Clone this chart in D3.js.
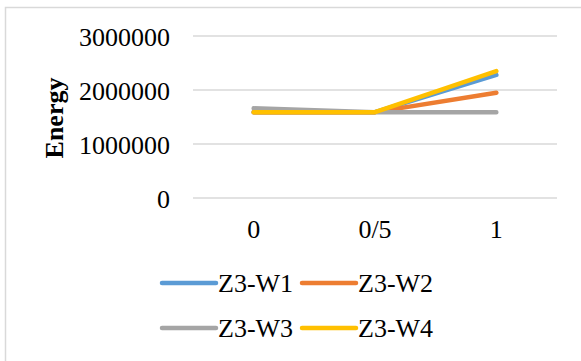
<!DOCTYPE html>
<html>
<head>
<meta charset="utf-8">
<script src="https://cdn.jsdelivr.net/npm/d3@7"></script>
<style>
  html, body { margin: 0; padding: 0; background: #fff; }
  svg { display: block; }
  text { font-family: "Liberation Serif", "Times New Roman", serif; fill: #000; }
</style>
</head>
<body>
<svg id="chart" width="581" height="361"></svg>
<script>
// Category labels along the x axis
const categories = ["0", "0/5", "1"];

// Energy per series, one value per category
const seriesNames = ["Z3-W1", "Z3-W2", "Z3-W3", "Z3-W4"];
const w1 = [1590000, 1590000, 2280000];
const w2 = [1590000, 1590000, 1950000];
const w3 = [1660000, 1590000, 1590000];
const w4 = [1590000, 1590000, 2350000];

// Y axis tick values
const yTicks = [0, 1000000, 2000000, 3000000];

const seriesValues = [w1, w2, w3, w4];
const colors = ["#5B9BD5", "#ED7D31", "#A5A5A5", "#FFC000"];

const svg = d3.select("#chart");

// Chart area frame
svg.append("rect")
  .attr("x", 5.5).attr("y", 7.5)
  .attr("width", 600).attr("height", 400)
  .attr("fill", "#fff")
  .attr("stroke", "#d9d9d9")
  .attr("stroke-width", 1.5);

const plotLeft = 193, plotRight = 557;
const x = d3.scaleBand().domain(categories).range([plotLeft, plotRight]);
const y = d3.scaleLinear().domain([0, 3000000]).range([198, 36]);

// Horizontal gridlines
svg.append("g")
  .selectAll("line")
  .data(yTicks)
  .join("line")
  .attr("x1", plotLeft).attr("x2", plotRight)
  .attr("y1", d => y(d)).attr("y2", d => y(d))
  .attr("stroke", "#d9d9d9")
  .attr("stroke-width", 1.5);

// Y axis labels
const yAxis = d3.axisLeft(y).tickValues(yTicks).tickSize(0).tickPadding(0)
  .tickFormat(d3.format("d"));
const gy = svg.append("g").attr("transform", "translate(170,0)").call(yAxis);
gy.select(".domain").remove();
gy.selectAll("text")
  .attr("font-family", "Liberation Serif, Times New Roman, serif")
  .attr("font-size", 26)
  .attr("dy", "0.36em");

// X axis labels
const xAxis = d3.axisBottom(x).tickSize(0).tickPadding(0);
const gx = svg.append("g").attr("transform", "translate(0,238)").call(xAxis);
gx.select(".domain").remove();
gx.selectAll("text")
  .attr("font-family", "Liberation Serif, Times New Roman, serif")
  .attr("font-size", 26)
  .attr("y", 0)
  .attr("dy", 0);

// Y axis title
svg.append("text")
  .attr("transform", "translate(63,118) rotate(-90)")
  .attr("text-anchor", "middle")
  .attr("font-size", 26)
  .attr("font-weight", "bold")
  .text("Energy");

// Series lines
const line = d3.line()
  .x((d, i) => x(categories[i]) + x.bandwidth() / 2)
  .y(d => y(d));

svg.append("g")
  .selectAll("path")
  .data(seriesValues)
  .join("path")
  .attr("d", d => line(d))
  .attr("fill", "none")
  .attr("stroke", (d, i) => colors[i])
  .attr("stroke-width", 4.5)
  .attr("stroke-linecap", "round")
  .attr("stroke-linejoin", "round");

// Legend, two items per row
const legendX = [162, 302];
const legendY = [283, 328];
const legend = svg.append("g")
  .selectAll("g")
  .data(seriesNames)
  .join("g")
  .attr("transform", (d, i) => `translate(${legendX[i % 2]},${legendY[Math.floor(i / 2)]})`);

legend.append("line")
  .attr("x1", 0).attr("x2", 54)
  .attr("y1", 0).attr("y2", 0)
  .attr("stroke", (d, i) => colors[i])
  .attr("stroke-width", 4.5)
  .attr("stroke-linecap", "round");

legend.append("text")
  .attr("x", 56)
  .attr("y", 9)
  .attr("font-size", 26)
  .text(d => d);
</script>
</body>
</html>
